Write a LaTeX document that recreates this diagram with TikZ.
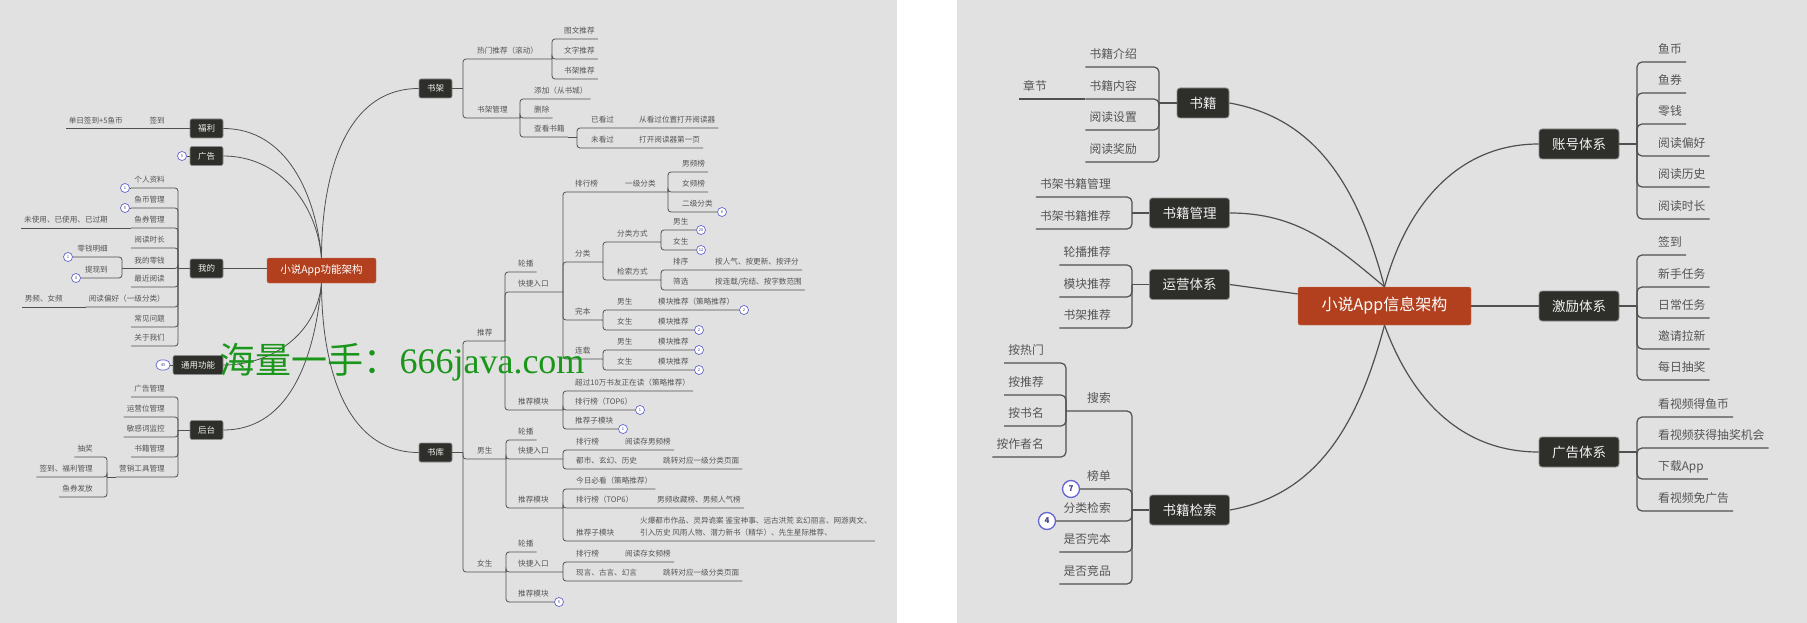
\documentclass[tikz,border=0pt]{standalone}
\usepackage{fontspec}
\setmainfont{Noto Sans CJK SC}
\newfontfamily\wmserif{Liberation Serif}
\usepackage{xcolor}
\usepackage{tikz}
\usetikzlibrary{shapes,positioning,calc}

\definecolor{panel}{RGB}{225,225,225}
\definecolor{rootred}{RGB}{178,64,31}
\definecolor{topicdark}{RGB}{46,46,42}
\definecolor{linegray}{RGB}{80,80,80}
\definecolor{leafgray}{RGB}{85,85,85}
\definecolor{badgeblue}{RGB}{100,100,210}
\definecolor{wmgreen}{RGB}{26,150,26}

\begin{document}
\begin{tikzpicture}[x=1pt, y=-1pt,
    root/.style = {draw=rootred!75!white, fill=rootred, rounded corners=2, text=white, inner sep=0},
    topic/.style = {draw=black!45, line width=0.6, fill=topicdark, rounded corners=2, text=white!95!black,
      inner sep=0, minimum width=33, minimum height=19, font=\fontsize{8.5}{9}\selectfont},
    topicb/.style = {topic, line width=0.8, rounded corners=3, minimum width=80, minimum height=30,
      font=\fontsize{13.5}{14}\selectfont},
    leaf/.style = {text=leafgray, inner xsep=3, inner ysep=2, text depth=3, font=\fontsize{7.6}{8}\selectfont},
    rs/.style = {leaf, anchor=south west},
    ls/.style = {leaf, anchor=south east},
    leafb/.style = {text=leafgray, inner xsep=4, inner ysep=2, text depth=6.5, font=\fontsize{11.8}{12}\selectfont},
    rb/.style = {leafb, anchor=south west},
    lb/.style = {leafb, anchor=south east},
    badge/.style = {circle, draw=badgeblue, fill=white, line width=0.7, minimum size=9, inner sep=0,
      text=badgeblue!60!black, font=\fontsize{4}{4}\selectfont},
    pill/.style = {badge, rectangle, rounded corners=5, minimum width=14, minimum height=10},
    bbadge/.style = {badge, line width=1.3, minimum size=17, font=\bfseries\fontsize{8}{8}\selectfont},
    ln/.style = {draw=linegray, line width=0.8, rounded corners=3},
    lnb/.style = {draw=linegray, line width=1.2, rounded corners=5},
    cv/.style = {draw=linegray, line width=0.8},
    cvb/.style = {draw=linegray, line width=1.2}
  ]
\useasboundingbox (0,0) rectangle (1807,623);
\fill[white] (0,0) rectangle (1807,623);
\fill[panel] (0,0) rectangle (897,623);
\fill[panel] (957,0) rectangle (1807,623);

% ======== left map: 功能架构 ========
\node[root, minimum width=109, minimum height=25, font=\fontsize{10.5}{11}\selectfont] (root1) at (321.5,270.5) {小说App功能架构};

\node[topic] (fuli) at (206.5,128.5) {福利};
\node[topic] (guanggao) at (206.5,156) {广告};
\node[topic] (wode) at (206.5,268.5) {我的};
\node[topic, minimum width=50] (tongyong) at (198,365) {通用功能};
\node[topic] (houtai) at (206.5,430) {后台};
\node[topic] (shujia) at (435.5,88.5) {书架};
\node[topic] (shuku) at (435.5,452.5) {书库};

\draw[cv] (fuli.east) to[out=0, in=95] (root1.north);
\draw[cv] (guanggao.east) to[out=0, in=95] (root1.north);
\draw[cv] (wode.east) -- (wode.east -| root1.west);
\draw[cv] (tongyong.east) to[out=0, in=-95] (root1.south);
\draw[cv] (houtai.east) to[out=0, in=-95] (root1.south);
\draw[cv] (root1.north) to[out=90, in=180] (shujia.west);
\draw[cv] (root1.south) to[out=-90, in=180] (shuku.west);

% 书架
\coordinate (sj-j) at (463,88.5);
\coordinate (rm-j) at (552,59);
\coordinate (sg-j) at (520,118);
\coordinate (ck-j) at (577,137);
\draw[ln] (shujia.east) -- (sj-j);
\node[rs] (rmtj) at (474,59) {热门推荐（滚动）};
\node[rs] (sjgl) at (474,118) {书架管理};
\draw[ln] (sj-j) |- (rm-j);
\draw[ln] (sj-j) |- (sg-j);
\foreach \y/\txt/\nm in {39/图文推荐/twtj, 59/文字推荐/wztj, 79/书架推荐/sjtj}{
  \node[rs] (\nm) at (561,\y) {\txt};
  \draw[ln] (rm-j) |- (\nm.south east);
}
\foreach \y/\txt/\nm in {99/添加（从书城）/tianjia, 118/删除/shanchu, 137/查看书籍/chakan}{
  \node[rs] (\nm) at (531,\y) {\txt};
  \draw[ln] (sg-j) |- (\nm.south east);
}
\draw[ln] (chakan.south east) -- (ck-j);
\node[rs] (ykg) at (588,128) {已看过};
\node[rs] (wkg) at (588,148) {未看过};
\node[rs] (ykg-d) at (636,128) {从看过位置打开阅读器};
\node[rs] (wkg-d) at (636,148) {打开阅读器第一页};
\draw[ln] (ck-j) |- (ykg-d.south east);
\draw[ln] (ck-j) |- (wkg-d.south east);

% 书库
\coordinate (sk-j) at (463,452.5);
\coordinate (tj-j) at (505,341);
\coordinate (ns-j) at (506,459);
\coordinate (nv-j) at (506,572);
\draw[ln] (shuku.east) -- (sk-j);
\node[rs] (tuijian) at (474,341) {推荐};
\node[rs] (nansheng) at (474,459) {男生};
\node[rs] (nvsheng) at (474,572) {女生};
\draw[ln] (sk-j) |- (tj-j);
\draw[ln] (sk-j) |- (ns-j);
\draw[ln] (sk-j) |- (nv-j);

% 推荐
\coordinate (kj1-j) at (563,292);
\coordinate (tm1-j) at (563,410);
\node[rs] (lunbo1) at (515,272) {轮播};
\node[rs] (kjrk1) at (515,292) {快捷入口};
\node[rs] (tjmk1) at (515,410) {推荐模块};
\draw[ln] (tj-j) |- (lunbo1.south east);
\draw[ln] (tj-j) |- (kj1-j);
\draw[ln] (tj-j) |- (tm1-j);

\coordinate (yj-j) at (668,192);
\coordinate (fl-j) at (603,262);
\coordinate (wb-j) at (603,320);
\coordinate (lz-j) at (603,359);
\node[rs] (phb1) at (572,192) {排行榜};
\node[rs] (yjfl) at (622,192) {一级分类};
\node[rs] (fenlei) at (572,262) {分类};
\node[rs] (wanben) at (572,320) {完本};
\node[rs] (lianzai) at (572,359) {连载};
\draw[ln] (kj1-j) |- (yj-j);
\draw[ln] (kj1-j) |- (fl-j);
\draw[ln] (kj1-j) |- (wb-j);
\draw[ln] (kj1-j) |- (lz-j);

\node[rs] (nanpin) at (679,172) {男频榜};
\node[rs] (nvpin) at (679,192) {女频榜};
\node[rs] (ejfl) at (679,212) {二级分类};
\node[badge] (b-ejfl) at (722,212) {6};
\draw[ln] (yj-j) |- (nanpin.south east);
\draw[ln] (yj-j) |- (nvpin.south east);
\draw[ln] (yj-j) |- (b-ejfl);

\coordinate (fs-j) at (661,242);
\coordinate (js-j) at (661,280);
\node[rs] (flfs) at (614,242) {分类方式};
\node[rs] (jsfs) at (614,280) {检索方式};
\draw[ln] (fl-j) |- (fs-j);
\draw[ln] (fl-j) |- (js-j);
\node[rs] (fsnan) at (670,230) {男生};
\node[rs] (fsnv) at (670,250) {女生};
\node[badge] (b-fsnan) at (701,230) {20};
\node[badge] (b-fsnv) at (701,250) {12};
\draw[ln] (fs-j) |- (b-fsnan);
\draw[ln] (fs-j) |- (b-fsnv);
\node[rs] (paixu) at (670,270) {排序};
\node[rs] (shaixuan) at (670,290) {筛选};
\node[rs] (paixu-d) at (712,270) {按人气、按更新、按评分};
\node[rs] (shaixuan-d) at (712,290) {按连载/完结、按字数范围};
\draw[ln] (js-j) |- (paixu-d.south east);
\draw[ln] (js-j) |- (shaixuan-d.south east);

\node[rs] (wbnan) at (614,310) {男生};
\node[rs] (wbnv) at (614,330) {女生};
\node[rs] (wbnan-d) at (655,310) {模块推荐（策略推荐）};
\node[rs] (wbnv-d) at (655,330) {模块推荐};
\node[badge] (b-wbnan) at (744,310) {2};
\node[badge] (b-wbnv) at (699,330) {2};
\draw[ln] (wb-j) |- (b-wbnan);
\draw[ln] (wb-j) |- (b-wbnv);
\node[rs] (lznan) at (614,350) {男生};
\node[rs] (lznv) at (614,370) {女生};
\node[rs] (lznan-d) at (655,350) {模块推荐};
\node[rs] (lznv-d) at (655,370) {模块推荐};
\node[badge] (b-lznan) at (699,350) {2};
\node[badge] (b-lznv) at (699,370) {2};
\draw[ln] (lz-j) |- (b-lznan);
\draw[ln] (lz-j) |- (b-lznv);

\node[rs] (cg10) at (572,391) {超过10万书友正在读（策略推荐）};
\node[rs] (phb2) at (572,410) {排行榜（TOP6）};
\node[rs] (tzmk1) at (572,429) {推荐子模块};
\node[badge] (b-phb2) at (640,410) {1};
\node[badge] (b-tzmk1) at (623,429) {1};
\draw[ln] (tm1-j) |- (cg10.south east);
\draw[ln] (tm1-j) |- (b-phb2);
\draw[ln] (tm1-j) |- (b-tzmk1);

% 男生
\coordinate (kj2-j) at (563,459);
\coordinate (tm2-j) at (563,508);
\node[rs] (lunbo2) at (515,440) {轮播};
\node[rs] (kjrk2) at (515,459) {快捷入口};
\node[rs] (tjmk2) at (515,508) {推荐模块};
\draw[ln] (ns-j) |- (lunbo2.south east);
\draw[ln] (ns-j) |- (kj2-j);
\draw[ln] (ns-j) |- (tm2-j);
\node[rs] (phb3) at (573,450) {排行榜};
\node[rs] (phb3-d) at (622,450) {阅读存男频榜};
\node[rs] (dsxh) at (573,469) {都市、玄幻、历史};
\node[rs] (dsxh-d) at (660,469) {跳转对应一级分类页面};
\draw[ln] (kj2-j) |- (phb3-d.south east);
\draw[ln] (kj2-j) |- (dsxh-d.south east);
\node[rs] (jrbk) at (573,489) {今日必看（策略推荐）};
\node[rs] (phb4) at (573,508) {排行榜（TOP6）};
\node[rs] (phb4-d) at (654,508) {男频收藏榜、男频人气榜};
\node[rs] (tzmk2) at (573,541) {推荐子模块};
\node[rs, align=left, font=\fontsize{7.6}{12}\selectfont] (tzmk2-d) at (637,541)
  {火爆都市作品、灵异诡案 鉴宝神事、远古洪荒 玄幻丽言、网游爽文、\\引入历史 风雨人物、潜力新书（精华）、先生星际推荐、};
\draw[ln] (tm2-j) |- (jrbk.south east);
\draw[ln] (tm2-j) |- (phb4-d.south east);
\draw[ln] (tm2-j) |- (tzmk2-d.south east);

% 女生
\coordinate (kj3-j) at (563,572);
\node[rs] (lunbo3) at (515,552) {轮播};
\node[rs] (kjrk3) at (515,572) {快捷入口};
\node[rs] (tjmk3) at (515,602) {推荐模块};
\node[badge] (b-tjmk3) at (559,602) {5};
\draw[ln] (nv-j) |- (lunbo3.south east);
\draw[ln] (nv-j) |- (kj3-j);
\draw[ln] (nv-j) |- (b-tjmk3);
\node[rs] (phb5) at (573,562) {排行榜};
\node[rs] (phb5-d) at (622,562) {阅读存女频榜};
\node[rs] (ygh) at (573,581) {现言、古言、幻言};
\node[rs] (ygh-d) at (660,581) {跳转对应一级分类页面};
\draw[ln] (kj3-j) |- (phb5-d.south east);
\draw[ln] (kj3-j) |- (ygh-d.south east);

% 福利, 广告
\node[ls] (qiandao) at (168,128.5) {签到};
\node[ls] (qiandao-d) at (126,128.5) {单日签到+5鱼币};
\draw[ln] (fuli.west) -- (qiandao-d.south west);
\node[badge] (b-gg) at (182,156) {5};
\draw[ln] (guanggao.west) -- (b-gg);

% 我的
\coordinate (wd-j) at (178,268.5);
\coordinate (lq-j) at (122,268.5);
\draw[ln] (wode.west) -- (wd-j);
\foreach \y/\txt/\nm in {188/个人资料/grzl, 208/鱼币管理/ybgl, 228/鱼券管理/yqgl, 248/阅读时长/ydsc,
    268.5/我的零钱/wdlq, 287/最近阅读/zjyd, 307/阅读偏好（一级分类）/ydph, 327/常见问题/cjwt, 346/关于我们/gywm}{
  \node[ls] (\nm) at (168,\y) {\txt};
  \draw[ln] (wd-j) |- (\nm.south west);
}
\node[badge] (b-grzl) at (125,188) {1};
\node[badge] (b-ybgl) at (125,208) {5};
\draw[ln] (grzl.south west) -- (b-grzl);
\draw[ln] (ybgl.south west) -- (b-ybgl);
\node[ls] (yqgl-d) at (111,228) {未使用、已使用、已过期};
\draw[ln] (yqgl.south west) -- (yqgl-d.south west);
\draw[ln] (wdlq.south west) -- (lq-j);
\node[ls] (lqmx) at (111,257) {零钱明细};
\node[ls] (txd) at (111,278) {提现到};
\node[badge] (b-lqmx) at (68,257) {1};
\node[badge] (b-txd) at (76,278) {4};
\draw[ln] (lq-j) |- (b-lqmx);
\draw[ln] (lq-j) |- (b-txd);
\node[ls] (ydph-d) at (66,307) {男频、女频};
\draw[ln] (ydph.south west) -- (ydph-d.south west);

% 通用功能
\node[pill] (b-ty) at (163,365) {45};
\draw[ln] (tongyong.west) -- (b-ty);

% 后台
\coordinate (ht-j) at (178,430);
\coordinate (yx-j) at (107,477);
\draw[ln] (houtai.west) -- (ht-j);
\foreach \y/\txt/\nm in {397/广告管理/gggl, 417/运营位管理/yywgl, 437/敏感词监控/mgc, 457/书籍管理/sjgl2, 477/营销工具管理/yxgj}{
  \node[ls] (\nm) at (168,\y) {\txt};
  \draw[ln] (ht-j) |- (\nm.south west);
}
\draw[ln] (yxgj.south west) -- (yx-j);
\foreach \y/\txt/\nm in {457/抽奖/choujiang, 477/签到、福利管理/qdfl, 497/鱼券发放/yqff}{
  \node[ls] (\nm) at (96,\y) {\txt};
  \draw[ln] (yx-j) |- (\nm.south west);
}

\node[text=wmgreen, inner sep=0, font=\fontsize{36}{38}\selectfont] (wm) at (402,362) {海量一手：{\wmserif 666java.com}};

% ======== right map: 信息架构 ========
\node[root, minimum width=173, minimum height=38, font=\fontsize{16}{17}\selectfont] (root2) at (1384.5,306) {小说App信息架构};

\node[topicb, minimum width=52] (shuji) at (1203,103) {书籍};
\node[topicb] (sjgl3) at (1189.5,213) {书籍管理};
\node[topicb] (yyxt) at (1189.5,284.5) {运营体系};
\node[topicb] (sjjs) at (1189.5,510) {书籍检索};
\node[topicb] (zhxt) at (1579,144) {账号体系};
\node[topicb] (jlxt) at (1579,306) {激励体系};
\node[topicb] (ggxt) at (1579,452) {广告体系};

\draw[cvb] (shuji.east) to[out=-10, in=105] (root2.north);
\draw[cvb] (sjgl3.east) to[out=0, in=140] (root2.north);
\draw[cvb] (yyxt.east) -- (root2);
\draw[cvb] (sjjs.east) to[out=10, in=-105] (root2.south);
\draw[cvb] (root2.north) to[out=75, in=180] (zhxt.west);
\draw[cvb] (root2.east) -- (jlxt.west);
\draw[cvb] (root2.south) to[out=-70, in=180] (ggxt.west);

% 书籍
\coordinate (shuji-j) at (1159,103);
\draw[lnb] (shuji.west) -- (shuji-j);
\foreach \y/\txt/\nm in {67/书籍介绍/jieshao, 99/书籍内容/sjnr, 130/阅读设置/ydsz, 162/阅读奖励/ydjl}{
  \node[lb] (\nm) at (1141,\y) {\txt};
  \draw[lnb] (shuji-j) |- (\nm.south west);
}
\node[lb] (zhangjie) at (1051,99) {章节};
\draw[lnb] (sjnr.south west) -- (zhangjie.south west);

% 书籍管理
\coordinate (sjgl3-j) at (1132,213);
\draw[lnb] (sjgl3.west) -- (sjgl3-j);
\foreach \y/\txt/\nm in {197/书架书籍管理/sjsjgl, 229/书架书籍推荐/sjsjtj}{
  \node[lb] (\nm) at (1115,\y) {\txt};
  \draw[lnb] (sjgl3-j) |- (\nm.south west);
}

% 运营体系
\coordinate (yyxt-j) at (1132,284.5);
\draw[lnb] (yyxt.west) -- (yyxt-j);
\foreach \y/\txt/\nm in {265/轮播推荐/lbtj, 297/模块推荐/mktj, 328/书架推荐/sjtj2}{
  \node[lb] (\nm) at (1115,\y) {\txt};
  \draw[lnb] (yyxt-j) |- (\nm.south west);
}

% 书籍检索
\coordinate (sjjs-j) at (1132,510);
\coordinate (ss-j) at (1066,411);
\draw[lnb] (sjjs.west) -- (sjjs-j);
\foreach \y/\txt/\nm in {411/搜索/sousuo, 489/榜单/bangdan, 521/分类检索/flss, 552/是否完本/sfwb, 584/是否竞品/sfjp}{
  \node[lb] (\nm) at (1115,\y) {\txt};
}
\draw[lnb] (sjjs-j) |- (ss-j);
\draw[lnb] (sjjs-j) |- (sfwb.south west);
\draw[lnb] (sjjs-j) |- (sfjp.south west);
\node[bbadge] (b7) at (1071,489) {7};
\node[bbadge] (b4) at (1047,521) {4};
\draw[lnb] (sjjs-j) |- (b7);
\draw[lnb] (sjjs-j) |- (b4);
\foreach \y/\txt/\nm in {363/按热门/arm, 395/按推荐/atj, 426/按书名/asm, 457/按作者名/azzm}{
  \node[lb] (\nm) at (1048,\y) {\txt};
  \draw[lnb] (ss-j) |- (\nm.south west);
}

% 账号体系
\coordinate (zhxt-j) at (1637,144);
\draw[lnb] (zhxt.east) -- (zhxt-j);
\foreach \y/\txt/\nm in {62/鱼币/yubi, 93/鱼券/yuquan, 124/零钱/lingqian, 156/阅读偏好/ydph2, 187/阅读历史/ydls, 219/阅读时长/ydsc2}{
  \node[rb] (\nm) at (1654,\y) {\txt};
  \draw[lnb] (zhxt-j) |- (\nm.south east);
}

% 激励体系
\coordinate (jlxt-j) at (1637,306);
\draw[lnb] (jlxt.east) -- (jlxt-j);
\foreach \y/\txt/\nm in {255/签到/qd2, 287/新手任务/xsrw, 318/日常任务/rcrw, 349/邀请拉新/yqlx, 380/每日抽奖/mrcj}{
  \node[rb] (\nm) at (1654,\y) {\txt};
  \draw[lnb] (jlxt-j) |- (\nm.south east);
}

% 广告体系
\coordinate (ggxt-j) at (1637,452);
\draw[lnb] (ggxt.east) -- (ggxt-j);
\foreach \y/\txt/\nm in {417/看视频得鱼币/kspyb, 448/看视频获得抽奖机会/kspcj, 479/下载App/xzapp, 511/看视频免广告/kspmgg}{
  \node[rb] (\nm) at (1654,\y) {\txt};
  \draw[lnb] (ggxt-j) |- (\nm.south east);
}
\end{tikzpicture}
\end{document}
